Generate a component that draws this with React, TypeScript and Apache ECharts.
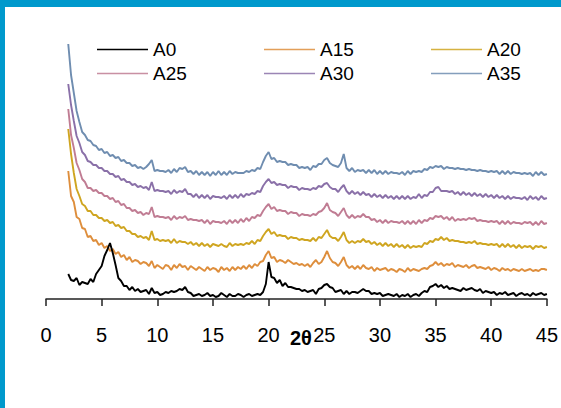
import React, { useEffect, useRef } from "react";
import * as echarts from "echarts";

// 2θ sampling: 2.00° to 45.00° in 0.25° steps (173 points)
const START = 2;
const STEP = 0.25;

const seriesNames = ["A0", "A15", "A20", "A25", "A30", "A35"];
const seriesColors = ["#000000", "#DE8E3C", "#CFA520", "#C07C93", "#8A70A8", "#6F8DB0"];
const xTicks = [0, 5, 10, 15, 20, 25, 30, 35, 40, 45];

// intensities (arbitrary units, offsets as in the picture)
const A0 = [
  25, 19, 18, 21, 14, 17, 16, 15, 20, 17, 25, 29, 33, 43, 49, 56, 46, 34, 21, 18,
  13, 13, 9, 12, 8, 10, 7, 8, 9, 5, 11, 6, 7, 4, 5, 7, 6, 8, 7, 8,
  10, 9, 12, 7, 6, 3, 4, 5, 3, 4, 6, 3, 4, 2, 3, 6, 4, 2, 5, 3,
  3, 5, 4, 2, 4, 5, 3, 4, 5, 4, 7, 15, 37, 22, 21, 16, 19, 13, 16, 12,
  12, 11, 10, 10, 8, 9, 7, 8, 9, 5, 10, 11, 14, 15, 12, 11, 7, 8, 9, 5,
  8, 5, 7, 7, 6, 8, 10, 8, 8, 5, 6, 5, 6, 3, 4, 5, 4, 3, 5, 2,
  4, 3, 5, 2, 4, 5, 3, 6, 8, 7, 12, 13, 15, 12, 14, 11, 13, 10, 11, 10,
  9, 8, 11, 9, 10, 11, 9, 8, 10, 6, 8, 7, 6, 7, 4, 6, 5, 7, 4, 5,
  6, 3, 5, 6, 4, 5, 3, 6, 4, 5, 6, 4, 5,
];
const A15 = [
  128, 103, 97, 82, 80, 71, 70, 62, 63, 58, 59, 54, 56, 51, 53, 48, 50, 45, 47, 42,
  44, 39, 42, 37, 39, 38, 35, 37, 36, 33, 38, 31, 34, 32, 30, 34, 33, 29, 34, 31,
  35, 32, 33, 29, 33, 31, 29, 32, 30, 28, 32, 29, 31, 30, 27, 32, 29, 31, 28, 32,
  29, 32, 30, 33, 30, 34, 31, 35, 33, 37, 38, 44, 48, 41, 42, 37, 39, 38, 36, 39,
  37, 35, 36, 34, 35, 33, 35, 32, 36, 39, 35, 37, 42, 48, 41, 37, 36, 33, 37, 42,
  34, 31, 33, 30, 33, 30, 34, 31, 30, 32, 28, 31, 29, 30, 31, 28, 30, 29, 27, 30,
  29, 27, 31, 28, 30, 29, 28, 30, 31, 30, 33, 34, 37, 34, 36, 33, 35, 34, 36, 32,
  34, 33, 32, 34, 31, 33, 34, 31, 32, 31, 30, 32, 29, 31, 30, 28, 31, 29, 30, 28,
  30, 29, 28, 30, 28, 29, 30, 28, 29, 28, 30, 30, 29,
];
const A20 = [
  170, 145, 126, 110, 103, 95, 93, 88, 88, 84, 84, 81, 81, 78, 79, 76, 77, 73, 74, 71,
  72, 68, 68, 65, 65, 62, 63, 61, 62, 59, 68, 59, 60, 58, 59, 58, 59, 56, 60, 56,
  58, 57, 57, 55, 57, 54, 56, 53, 56, 53, 55, 52, 55, 54, 53, 55, 53, 52, 56, 53,
  55, 54, 55, 54, 56, 55, 58, 55, 59, 58, 63, 67, 70, 65, 67, 63, 64, 63, 63, 60,
  62, 61, 61, 59, 60, 59, 59, 58, 61, 58, 62, 61, 65, 69, 63, 61, 61, 58, 62, 67,
  59, 56, 58, 56, 58, 57, 60, 57, 58, 55, 57, 54, 56, 53, 56, 53, 55, 52, 55, 52,
  54, 51, 54, 51, 53, 52, 53, 52, 56, 55, 58, 57, 60, 59, 62, 59, 61, 58, 59, 58,
  58, 57, 57, 56, 57, 56, 58, 55, 56, 55, 55, 54, 55, 54, 55, 52, 55, 52, 55, 52,
  54, 51, 54, 51, 53, 52, 53, 50, 53, 52, 53, 51, 52,
];
const A25 = [
  190, 164, 151, 136, 129, 120, 117, 111, 111, 108, 109, 106, 106, 103, 103, 100, 101, 97, 98, 94,
  95, 91, 91, 88, 89, 86, 87, 84, 86, 85, 92, 82, 83, 82, 82, 81, 82, 79, 83, 80,
  82, 81, 83, 79, 80, 79, 79, 78, 79, 76, 79, 75, 78, 77, 77, 76, 78, 75, 79, 76,
  79, 76, 80, 77, 81, 78, 82, 81, 84, 83, 88, 92, 95, 90, 92, 88, 89, 88, 88, 85,
  87, 86, 86, 83, 85, 84, 84, 83, 85, 84, 87, 88, 91, 96, 89, 87, 86, 83, 87, 91,
  84, 81, 84, 81, 83, 82, 85, 82, 82, 79, 80, 77, 79, 76, 79, 76, 78, 77, 77, 76,
  78, 75, 78, 75, 78, 75, 79, 76, 79, 78, 81, 80, 83, 82, 83, 80, 82, 79, 82, 78,
  80, 79, 80, 79, 81, 80, 81, 78, 79, 78, 78, 77, 78, 77, 78, 75, 78, 75, 78, 75,
  77, 76, 76, 75, 77, 76, 77, 74, 77, 74, 78, 75, 76,
];
const A30 = [
  215, 194, 178, 163, 156, 147, 144, 138, 137, 134, 134, 131, 131, 128, 128, 125, 125, 122, 123, 119,
  120, 117, 117, 114, 115, 112, 113, 111, 112, 109, 117, 108, 109, 108, 108, 107, 108, 105, 109, 106,
  108, 107, 110, 105, 105, 102, 105, 101, 104, 101, 104, 100, 103, 102, 102, 101, 103, 100, 104, 101,
  104, 101, 105, 102, 105, 104, 106, 105, 108, 107, 113, 117, 120, 116, 117, 114, 115, 114, 114, 111,
  113, 112, 112, 109, 111, 110, 110, 109, 111, 110, 113, 112, 115, 116, 112, 110, 110, 107, 111, 114,
  108, 105, 108, 105, 107, 104, 107, 104, 105, 102, 105, 102, 104, 101, 104, 101, 103, 100, 103, 100,
  103, 100, 103, 100, 102, 101, 105, 101, 104, 103, 107, 107, 111, 112, 108, 108, 108, 107, 108, 105,
  107, 104, 107, 104, 106, 103, 106, 103, 105, 102, 105, 102, 104, 101, 104, 101, 103, 100, 103, 100,
  102, 101, 101, 100, 102, 99, 103, 100, 102, 99, 103, 100, 101,
];
const A35 = [
  255, 224, 206, 188, 177, 167, 164, 159, 158, 154, 153, 149, 150, 146, 147, 143, 144, 141, 142, 138,
  139, 136, 136, 133, 134, 131, 132, 130, 132, 135, 139, 128, 129, 128, 128, 127, 129, 126, 130, 127,
  131, 130, 132, 127, 128, 125, 128, 124, 127, 124, 127, 123, 127, 124, 128, 124, 127, 124, 128, 125,
  127, 126, 126, 126, 128, 127, 129, 128, 131, 130, 137, 143, 147, 140, 141, 137, 138, 137, 137, 134,
  135, 134, 134, 131, 132, 131, 132, 129, 133, 132, 135, 135, 139, 141, 136, 134, 133, 132, 136, 145,
  131, 128, 131, 127, 129, 128, 129, 126, 129, 126, 129, 125, 128, 125, 128, 125, 127, 126, 126, 125,
  127, 124, 128, 125, 128, 127, 128, 127, 130, 129, 132, 131, 133, 132, 133, 130, 132, 131, 131, 130,
  131, 130, 130, 129, 130, 129, 129, 128, 129, 128, 128, 127, 128, 127, 128, 125, 128, 125, 128, 125,
  127, 126, 126, 125, 126, 125, 126, 123, 127, 124, 127, 124, 125,
];

const seriesValues = [A0, A15, A20, A25, A30, A35];

const FONT = "'Liberation Sans Narrow', 'Liberation Sans', Arial, sans-serif";

export default function App() {
  const ref = useRef<HTMLDivElement>(null);

  useEffect(() => {
    if (!ref.current) return;
    const chart = echarts.init(ref.current, null, { renderer: "svg" });

    const legendLayout = [
      { left: 97, top: 40 },
      { left: 264, top: 40 },
      { left: 431, top: 40 },
      { left: 97, top: 64 },
      { left: 264, top: 64 },
      { left: 431, top: 64 },
    ];

    const option: any = {
      animation: false,
      backgroundColor: "#ffffff",
      graphic: [
        { type: "rect", left: 0, top: 0, shape: { width: 561, height: 7 }, style: { fill: "#0099CC" }, silent: true },
        { type: "rect", left: 0, top: 0, shape: { width: 5, height: 408 }, style: { fill: "#0099CC" }, silent: true },
      ],
      legend: seriesNames.map((n, i) => ({
        data: [n],
        left: legendLayout[i].left,
        top: legendLayout[i].top,
        padding: 0,
        itemWidth: 51,
        itemHeight: 12,
        selectedMode: false,
        icon: "path://M0,0H51V1.4H0Z",
        itemStyle: { color: seriesColors[i], borderWidth: 0, opacity: i === 0 ? 1 : 0.85 },
        textStyle: { fontSize: 19, color: "#000", fontFamily: FONT },
      })),
      grid: { left: 46, right: 11, top: 9, bottom: 109, containLabel: false },
      xAxis: {
        type: "value",
        min: 0,
        max: 45,
        interval: 5,
        name: "2θ",
        nameLocation: "middle",
        nameGap: 29,
        nameMoveOverlap: false,
        nameTextStyle: {
          fontSize: 20,
          fontWeight: "bold",
          color: "#000",
          padding: [0, 0, 0, 9],
          fontFamily: "'Liberation Sans', Arial, sans-serif",
        },
        axisLine: { show: true, lineStyle: { color: "#222", width: 1.5 } },
        axisTick: { show: true, inside: false, length: 7, lineStyle: { color: "#222", width: 1.5 } },
        axisLabel: {
          fontSize: 20,
          color: "#000",
          fontFamily: FONT,
          margin: 26,
          customValues: xTicks,
        },
        splitLine: { show: false },
      },
      yAxis: {
        type: "value",
        min: 0,
        max: 290,
        show: false,
        splitLine: { show: false },
      },
      series: seriesNames.map((n, i) => ({
        name: n,
        type: "line",
        symbol: "none",
        z: i === 0 ? 5 : 2,
        color: seriesColors[i],
        lineStyle: { color: seriesColors[i], width: 1.9 },
        data: seriesValues[i].map((v, k) => [START + k * STEP, v]),
      })),
    };

    chart.setOption(option);
    return () => chart.dispose();
  }, []);

  return (
    <div
      ref={ref}
      style={{ position: "fixed", left: 0, top: 0, width: 561, height: 408, background: "#fff" }}
    />
  );
}
